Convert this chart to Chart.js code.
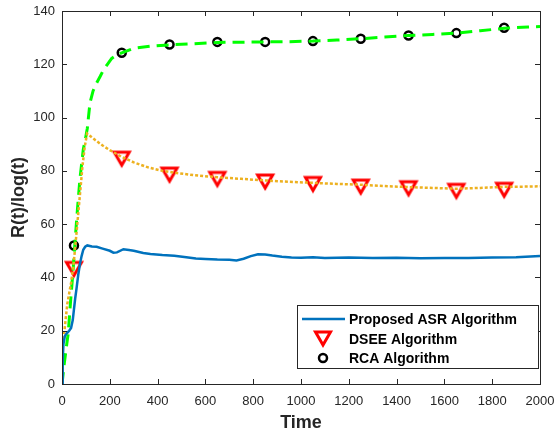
<!DOCTYPE html>
<html>
<head>
<meta charset="utf-8">
<script src="https://cdn.jsdelivr.net/npm/chart.js@4.4.1/dist/chart.umd.min.js"></script>
<style>
  html, body { margin: 0; padding: 0; background: #fff; }
  #wrap { width: 556px; height: 436px; }
</style>
</head>
<body>
<div id="wrap"><canvas id="grafica"></canvas></div>
<script>
// Datos
const asrTime  = [0, 3, 6, 12, 20, 30, 38, 45, 50, 55, 61, 68, 75, 82, 89, 97, 106, 125, 145, 170, 200, 215, 230, 257, 280, 300, 340, 370, 420, 470, 520, 560, 600, 650, 700, 730, 760, 790, 820, 850, 880, 920, 960, 1000, 1050, 1100, 1200, 1300, 1400, 1500, 1600, 1700, 1800, 1900, 2000];
const asrValue = [0, 9, 15, 18, 19, 20, 21, 24, 28, 32, 36, 41, 45, 48, 50.4, 51.5, 52, 51.6, 51.5, 50.8, 50, 49.3, 49.4, 50.6, 50.3, 50, 49.2, 48.8, 48.4, 48.1, 47.6, 47.1, 46.9, 46.7, 46.6, 46.4, 47.0, 48.0, 48.7, 48.6, 48.2, 47.8, 47.5, 47.4, 47.6, 47.3, 47.5, 47.3, 47.4, 47.2, 47.3, 47.3, 47.5, 47.6, 48];

const dseeTime  = [0, 2, 8, 15, 22, 30, 38, 47, 55, 62, 70, 78, 86, 95, 105, 115, 140, 170, 200, 250, 300, 360, 420, 480, 550, 650, 750, 850, 950, 1050, 1150, 1250, 1350, 1450, 1550, 1650, 1750, 1850, 1950, 2000];
const dseeValue = [0, 15, 18, 24, 30, 34, 38, 44, 51, 58, 66, 74, 82, 89, 94, 93.3, 91.5, 89.5, 87.8, 85.2, 83.2, 81.3, 80, 79.2, 78.4, 77.6, 77, 76.4, 75.9, 75.5, 75.1, 74.8, 74.3, 73.9, 73.6, 73.3, 73.6, 74, 74.1, 74.2];

const rcaTime  = [0, 5, 10, 20, 26, 35, 47, 55, 65, 75, 89, 100, 106, 117, 130, 145, 160, 173, 190, 208, 230, 250, 300, 370, 450, 550, 650, 750, 850, 950, 1050, 1150, 1250, 1350, 1450, 1550, 1650, 1750, 1850, 1950, 2000];
const rcaValue = [0, 4, 8, 15, 19, 30, 43.5, 54, 66, 77, 88, 93, 96, 105.5, 110, 113, 115.5, 117.8, 120, 122.2, 123.5, 124.3, 126, 126.8, 127.3, 127.7, 128.2, 128.3, 128.4, 128.5, 128.7, 129.1, 129.6, 130.2, 130.8, 131.2, 131.7, 132.6, 133.5, 134, 134.2];

const markTime      = [50, 250, 450, 650, 850, 1050, 1250, 1450, 1650, 1850];
const dseeMarkValue = [43, 84.4, 78.4, 76.8, 75.8, 74.9, 73.9, 73.3, 72.3, 72.7];
const rcaMarkValue  = [52, 124.3, 127.4, 128.4, 128.4, 128.7, 129.6, 130.8, 131.7, 133.7];

const legendLabels = ['Proposed ASR Algorithm', 'DSEE Algorithm', 'RCA Algorithm'];

const axisColor = '#262626';
const fontFamily = 'Arial, "Liberation Sans", Helvetica, sans-serif';

function toPoints(xs, ys) {
    return xs.map((x, i) => ({ x: x, y: ys[i] }));
}

// Triángulo invertido estilo MATLAB
const tri = document.createElement('canvas');
tri.width = 24;
tri.height = 22;
(function () {
    const c = tri.getContext('2d');
    c.strokeStyle = '#ff0000';
    c.lineWidth = 3;
    c.lineJoin = 'miter';
    c.beginPath();
    c.moveTo(4.5, 4);
    c.lineTo(19.5, 4);
    c.lineTo(12, 17);
    c.closePath();
    c.stroke();
})();

// Caja de ejes con marcas hacia dentro
const axesBox = {
    id: 'axesBox',
    afterDatasetsDraw(chart) {
        const { ctx, chartArea: a, scales } = chart;
        ctx.save();
        ctx.strokeStyle = axisColor;
        ctx.lineWidth = 1;
        ctx.beginPath();
        scales.x.ticks.forEach(t => {
            const px = Math.round(scales.x.getPixelForValue(t.value)) + 0.5;
            ctx.moveTo(px, a.bottom); ctx.lineTo(px, a.bottom - 5);
            ctx.moveTo(px, a.top); ctx.lineTo(px, a.top + 5);
        });
        scales.y.ticks.forEach(t => {
            const py = Math.round(scales.y.getPixelForValue(t.value)) + 0.5;
            ctx.moveTo(a.left, py); ctx.lineTo(a.left + 5, py);
            ctx.moveTo(a.right, py); ctx.lineTo(a.right - 5, py);
        });
        ctx.stroke();
        ctx.strokeRect(Math.round(a.left) + 0.5, Math.round(a.top) + 0.5,
            Math.round(a.right - a.left), Math.round(a.bottom - a.top));
        ctx.restore();
    },
    afterDraw(chart) {
        // Leyenda dentro del área
        const { ctx, chartArea: a } = chart;
        const ds = chart.data.datasets;
        const x0 = a.right - 243, y0 = a.bottom - 79, w = 241, h = 63;
        ctx.save();
        ctx.fillStyle = '#fff';
        ctx.fillRect(x0, y0, w, h);
        ctx.strokeStyle = axisColor;
        ctx.lineWidth = 1;
        ctx.strokeRect(x0 + 0.5, y0 + 0.5, w, h);

        const rows = [y0 + 14, y0 + 34, y0 + 53];
        // linea azul
        ctx.strokeStyle = ds[0].borderColor;
        ctx.lineWidth = ds[0].borderWidth;
        ctx.beginPath();
        ctx.moveTo(x0 + 5, rows[0]);
        ctx.lineTo(x0 + 48, rows[0]);
        ctx.stroke();
        // triangulo
        ctx.drawImage(tri, x0 + 26 - tri.width / 2, rows[1] - tri.height / 2);
        // circulo
        ctx.beginPath();
        ctx.arc(x0 + 26, rows[2], 4, 0, Math.PI * 2);
        ctx.fillStyle = '#fff';
        ctx.fill();
        ctx.strokeStyle = '#000';
        ctx.lineWidth = 2.5;
        ctx.stroke();

        ctx.fillStyle = '#000';
        ctx.font = 'bold 14px ' + fontFamily;
        ctx.textBaseline = 'middle';
        ctx.textAlign = 'left';
        legendLabels.forEach((txt, i) => ctx.fillText(txt, x0 + 52, rows[i] + 1));
        ctx.restore();
    }
};

const lineBase = { pointRadius: 0, tension: 0, fill: false, borderCapStyle: 'butt' };

new Chart(document.getElementById('grafica').getContext('2d'), {
    type: 'line',
    data: {
        datasets: [
            Object.assign({
                label: legendLabels[0],
                data: toPoints(asrTime, asrValue),
                borderColor: '#0072BD',
                borderWidth: 2.5
            }, lineBase),
            Object.assign({
                label: 'DSEE line',
                data: toPoints(dseeTime, dseeValue),
                borderColor: '#EDB120',
                borderWidth: 2.5,
                borderDash: [3, 2]
            }, lineBase),
            Object.assign({
                label: 'RCA line',
                data: toPoints(rcaTime, rcaValue),
                borderColor: '#00FF00',
                borderWidth: 3,
                borderDash: [12, 7]
            }, lineBase),
            {
                label: legendLabels[1],
                data: toPoints(markTime, dseeMarkValue),
                showLine: false,
                pointStyle: tri,
                pointRadius: 10,
                pointHoverRadius: 10
            },
            {
                label: legendLabels[2],
                data: toPoints(markTime, rcaMarkValue),
                showLine: false,
                pointStyle: 'circle',
                pointRadius: 4,
                pointBorderWidth: 2.5,
                pointBorderColor: '#000',
                pointBackgroundColor: '#fff'
            }
        ]
    },
    options: {
        responsive: true,
        maintainAspectRatio: false,
        animation: false,
        layout: { padding: { left: 0, top: 6, right: 16, bottom: 0 } },
        plugins: { legend: { display: false }, tooltip: { enabled: false } },
        scales: {
            x: {
                type: 'linear',
                min: 0,
                max: 2000,
                grid: { display: false, drawTicks: false },
                border: { display: false },
                ticks: {
                    stepSize: 200,
                    color: axisColor,
                    padding: 10,
                    maxRotation: 0,
                    callback: v => String(v),
                    font: { family: fontFamily, size: 13 }
                },
                title: {
                    display: true,
                    text: 'Time',
                    color: axisColor,
                    padding: { top: 0, bottom: 2 },
                    font: { family: fontFamily, size: 18, weight: 'bold' }
                },
                afterFit(s) {
                    s.height = 52;
                    s.paddingLeft = 0;
                    s.paddingRight = 0;
                }
            },
            y: {
                min: 0,
                max: 140,
                grid: { display: false, drawTicks: false },
                border: { display: false },
                ticks: {
                    stepSize: 20,
                    color: axisColor,
                    padding: 7,
                    font: { family: fontFamily, size: 13 }
                },
                title: {
                    display: true,
                    text: 'R(t)/log(t)',
                    color: axisColor,
                    padding: { top: 8, bottom: 0 },
                    font: { family: fontFamily, size: 18, weight: 'bold' }
                },
                afterFit(s) {
                    s.width = 62;
                    s.paddingTop = 0;
                    s.paddingBottom = 0;
                }
            }
        }
    },
    plugins: [axesBox]
});
</script>
</body>
</html>
